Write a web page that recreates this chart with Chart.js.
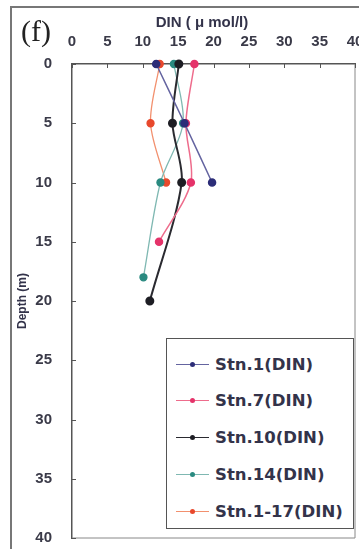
<!DOCTYPE html>
<html>
<head>
<meta charset="utf-8">
<script src="https://cdn.jsdelivr.net/npm/chart.js@4"></script>
<style>
  html, body { margin: 0; padding: 0; background: #fff; }
  #wrap { position: relative; width: 359px; height: 549px; overflow: hidden; }
  #frame { position: absolute; left: 10px; top: 6px; width: 400px; height: 600px;
    border-left: 2px solid #777; border-top: 2px solid #777; }
  canvas { position: absolute; left: 0; top: 0; }
  #panel { position: absolute; left: 21px; top: 14px; font: 30px "Liberation Serif", serif; color: #222; }
  #xtitle { position: absolute; left: 145px; top: 13px; width: 114px; text-align: center;
    font: bold 15px "Liberation Sans", sans-serif; color: #33334a; white-space: nowrap; }
  #legend { position: absolute; left: 166px; top: 338px; width: 186px; height: 189px;
    border: 1.5px solid #555; background: #fff; }
  .row { position: absolute; left: 9px; height: 20px; display: flex; align-items: center;
    font: bold 16.5px "DejaVu Sans", sans-serif; color: #33334a; }
  .sample { position: relative; width: 33px; height: 20px; margin-right: 6px; }
  .sample i { position: absolute; left: 0; top: 9.5px; width: 33px; height: 1.2px; }
  .sample b { position: absolute; left: 14px; top: 7.5px; width: 5px; height: 5px; border-radius: 50%; }
</style>
</head>
<body>
<div id="wrap">
  <div id="frame"></div>
  <canvas id="chart" width="372" height="549"></canvas>
  <div id="panel">(f)</div>
  <div id="xtitle">DIN ( μ mol/l)</div>
  <div id="legend"></div>
</div>
<script>
document.addEventListener("DOMContentLoaded", function () {
  const chartCanvas = document.getElementById("chart");
  const legendBox = document.getElementById("legend");

  // depth (m) on the vertical axis, DIN on the horizontal axis
  const seriesNames = ["Stn.1(DIN)", "Stn.7(DIN)", "Stn.10(DIN)", "Stn.14(DIN)", "Stn.1-17(DIN)"];
  const stn1Depth = [0, 5, 10];
  const stn1Din = [11.9, 15.9, 19.8];
  const stn7Depth = [0, 5, 10, 15];
  const stn7Din = [17.3, 16.1, 16.8, 12.3];
  const stn10Depth = [0, 5, 10, 20];
  const stn10Din = [15.1, 14.2, 15.5, 11.0];
  const stn14Depth = [0, 5, 10, 18];
  const stn14Din = [14.4, 15.7, 12.5, 10.1];
  const stn117Depth = [0, 5, 10];
  const stn117Din = [12.4, 11.1, 13.3];
  const xTicks = [0, 5, 10, 15, 20, 25, 30, 35, 40];
  const yTicks = [0, 5, 10, 15, 20, 25, 30, 35, 40];

  const markerColors = ["#2c2d78", "#e5336a", "#1e1e24", "#2a8a80", "#e8482c"];
  const lineColors = ["#6464a0", "#ee6c8c", "#2a2a30", "#7fb8b2", "#f2906e"];
  const lineWidths = [1.5, 1.5, 2, 1.3, 1.3];

  const depths = [stn1Depth, stn7Depth, stn10Depth, stn14Depth, stn117Depth];
  const dins = [stn1Din, stn7Din, stn10Din, stn14Din, stn117Din];

  const datasets = seriesNames.map((name, i) => ({
    label: name,
    data: dins[i].map((v, k) => ({ x: v, y: depths[i][k] })),
    showLine: true,
    tension: 0.3,
    borderColor: lineColors[i],
    borderWidth: lineWidths[i],
    backgroundColor: markerColors[i],
    pointBackgroundColor: markerColors[i],
    pointBorderColor: markerColors[i],
    pointRadius: 3.5,
    clip: false
  }));

  const tickFont = { family: "Liberation Sans", weight: "bold", size: 15 };
  const hidden = "rgba(0,0,0,0)";

  // inner tick marks and the right/bottom edges of the plot box
  const boxTicks = {
    id: "boxTicks",
    beforeDatasetsDraw(chart) {
      const { ctx, chartArea: a, scales } = chart;
      ctx.save();
      ctx.strokeStyle = "#888";
      ctx.lineWidth = 1;
      ctx.beginPath();
      ctx.moveTo(a.right, a.top);
      ctx.lineTo(a.right, a.bottom);
      ctx.lineTo(a.left, a.bottom);
      ctx.stroke();
      ctx.strokeStyle = "#555";
      ctx.beginPath();
      xTicks.forEach(v => {
        const px = Math.round(scales.x.getPixelForValue(v)) + 0.5;
        ctx.moveTo(px, a.top);
        ctx.lineTo(px, a.top + 4);
      });
      yTicks.forEach(v => {
        const py = Math.round(scales.y.getPixelForValue(v)) + 0.5;
        ctx.moveTo(a.left, py);
        ctx.lineTo(a.left + 4, py);
      });
      ctx.stroke();
      ctx.restore();
    }
  };

  new Chart(chartCanvas, {
    type: "scatter",
    data: { datasets: datasets },
    options: {
      responsive: false,
      animation: false,
      layout: { padding: { left: 0, top: 0, right: 17, bottom: 11 } },
      plugins: { legend: { display: false }, tooltip: { enabled: false } },
      scales: {
        x: {
          position: "top",
          min: 0, max: 40,
          afterFit: s => { s.height = 64; },
          afterBuildTicks: s => { s.ticks = xTicks.map(v => ({ value: v })); },
          grid: { drawOnChartArea: false, drawTicks: true, tickLength: 13, tickColor: hidden },
          border: { color: "#555", width: 1.5 },
          ticks: { padding: 0, color: "#3a3a48", font: tickFont, maxRotation: 0, autoSkip: false }
        },
        y: {
          reverse: true,
          min: 0, max: 40,
          afterFit: s => { s.width = 72; },
          afterBuildTicks: s => { s.ticks = yTicks.map(v => ({ value: v })); },
          grid: { drawOnChartArea: false, drawTicks: true, tickLength: 20, tickColor: hidden },
          border: { color: "#555", width: 1.5 },
          ticks: { padding: 0, color: "#3a3a48", font: tickFont, autoSkip: false },
          title: {
            display: true, text: "Depth (m)", color: "#33334a",
            font: { family: "Liberation Sans", weight: "bold", size: 12 },
            padding: { top: 15, bottom: 0 }
          }
        }
      }
    },
    plugins: [boxTicks]
  });

  // legend inside the plot, lower right
  seriesNames.forEach((name, i) => {
    const row = document.createElement("div");
    row.className = "row";
    row.style.top = (15 + i * 36.8) + "px";
    row.innerHTML = `<span class="sample"><i style="background:${lineColors[i]}"></i>` +
      `<b style="background:${markerColors[i]}"></b></span><span>${name}</span>`;
    legendBox.appendChild(row);
  });
});
</script>
</body>
</html>
